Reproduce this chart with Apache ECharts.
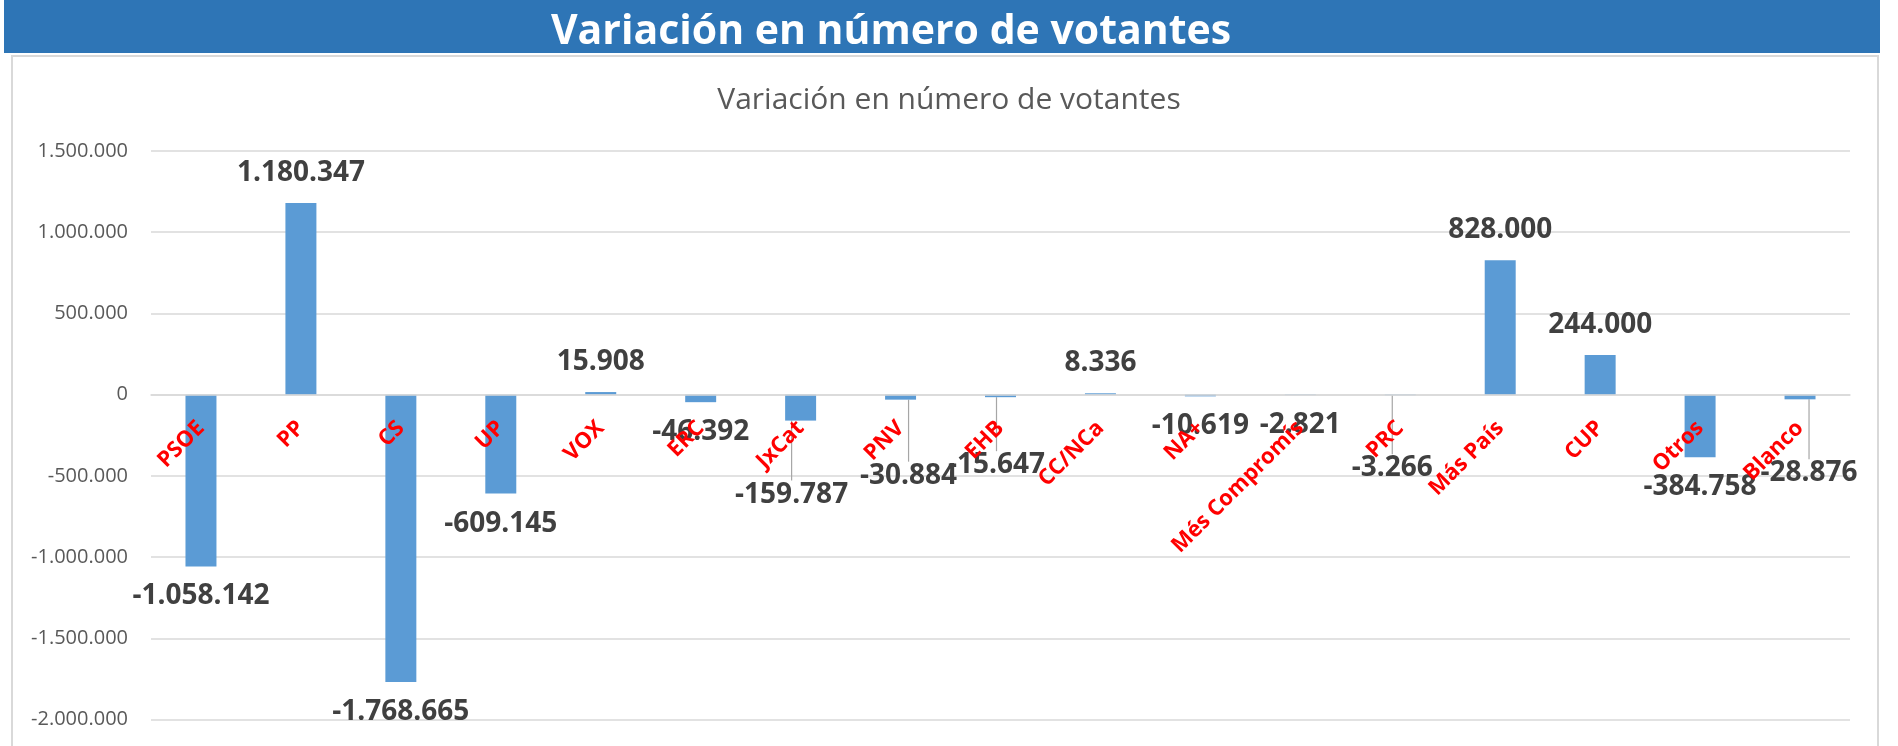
<!DOCTYPE html>
<html>
<head>
<meta charset="utf-8">
<script src="https://cdn.jsdelivr.net/npm/echarts@6/dist/echarts.min.js"></script>
<style>
html,body{margin:0;padding:0;background:#fff;}
#chart{width:1898px;height:746px;}
</style>
</head>
<body>
<div id="chart"></div>
<script>
const bannerTitle = 'Variación en número de votantes';
const chartTitle = 'Variación en número de votantes';
const categories = ['PSOE','PP','CS','UP','VOX','ERC','JxCat','PNV','EHB','CC/NCa','NA+','Més Compromís','PRC','Más País','CUP','Otros','Blanco'];
const values = [-1058142, 1180347, -1768665, -609145, 15908, -46392, -159787, -30884, -15647, 8336, -10619, -2821, -3266, 828000, 244000, -384758, -28876];
const yMin = -2000000;
const yMax = 1500000;
const yStep = 500000;

// manual label nudges (as in the original, moved labels get leader lines)
const labelNudges = {
  'JxCat': [-9, 44],
  'PNV': [8, 46],
  'EHB': [-4, 38],
  'PRC': [-8, 43],
  'Blanco': [9, 44]
};

function fmt(v) {
  const s = Math.abs(Math.round(v)).toString().replace(/\B(?=(\d{3})+(?!\d))/g, '.');
  return (v < 0 ? '-' : '') + s;
}

const W = 1898, H = 746;
const gridTop = 151, gridBottom = 26.5, gridLeft = 151, gridRight = 48;
const plotH = H - gridTop - gridBottom;
// place the category axis on the zero line
const zeroOffset = -((0 - yMin) / (yMax - yMin)) * plotH;

const chart = echarts.init(document.getElementById('chart'), null, {renderer: 'canvas'});
const FONT = '"Open Sans", "Noto Sans", sans-serif';

const seriesData = values.map((v, i) => {
  const item = { value: v, label: { position: v >= 0 ? 'top' : 'bottom' } };
  item.labelLine = { show: !!labelNudges[categories[i]] };
  return item;
});

chart.setOption({
  animation: false,
  backgroundColor: '#ffffff',
  textStyle: { fontFamily: FONT },
  graphic: [
    { type: 'rect', z: -10, silent: true,
      shape: { x: 4, y: 0, width: 1876, height: 53 },
      style: { fill: '#2E75B6' } },
    { type: 'text', z: 10, silent: true, x: 891, y: 32,
      style: { text: bannerTitle, fill: '#ffffff', font: 'bold 41px ' + FONT,
               textAlign: 'center', textVerticalAlign: 'middle' } },
    { type: 'rect', z: -10, silent: true,
      shape: { x: 12, y: 56, width: 1866, height: 720 },
      style: { fill: 'none', stroke: '#d9d9d9', lineWidth: 2 } }
  ],
  title: {
    text: chartTitle,
    left: 944,
    top: 80,
    textAlign: 'center',
    textStyle: { color: '#595959', fontSize: 30, fontWeight: 'normal', fontFamily: FONT }
  },
  grid: { left: gridLeft, right: gridRight, top: gridTop, bottom: gridBottom, containLabel: false },
  xAxis: {
    type: 'category',
    data: categories,
    position: 'bottom',
    offset: zeroOffset,
    z: 10,
    axisLine: { show: true, onZero: false, lineStyle: { color: '#d9d9d9', width: 1.5 } },
    axisTick: { show: false },
    axisLabel: {
      interval: 0, rotate: 45, margin: 30,
      color: '#FF0000', fontWeight: 'bold', fontSize: 22, fontFamily: FONT
    },
    splitLine: { show: false }
  },
  yAxis: {
    type: 'value',
    min: yMin, max: yMax, interval: yStep,
    axisLine: { show: false },
    axisTick: { show: false },
    axisLabel: { color: '#595959', fontSize: 20, margin: 23, fontFamily: FONT, formatter: fmt },
    splitLine: { show: true, lineStyle: { color: '#d9d9d9', width: 1.5 } }
  },
  series: [{
    type: 'bar',
    data: seriesData,
    barWidth: '31%',
    itemStyle: { color: '#5B9BD5' },
    label: {
      show: true,
      distance: 16,
      color: '#404040',
      fontWeight: 'bold',
      fontSize: 28,
      fontFamily: FONT,
      formatter: p => fmt(p.value)
    },
    labelLine: { show: false, lineStyle: { color: '#a6a6a6', width: 1.2 } },
    labelLayout: function (params) {
      const n = labelNudges[categories[params.dataIndex]];
      if (!n) return {};
      return { dx: n[0], dy: n[1] };
    }
  }]
});
</script>
</body>
</html>
